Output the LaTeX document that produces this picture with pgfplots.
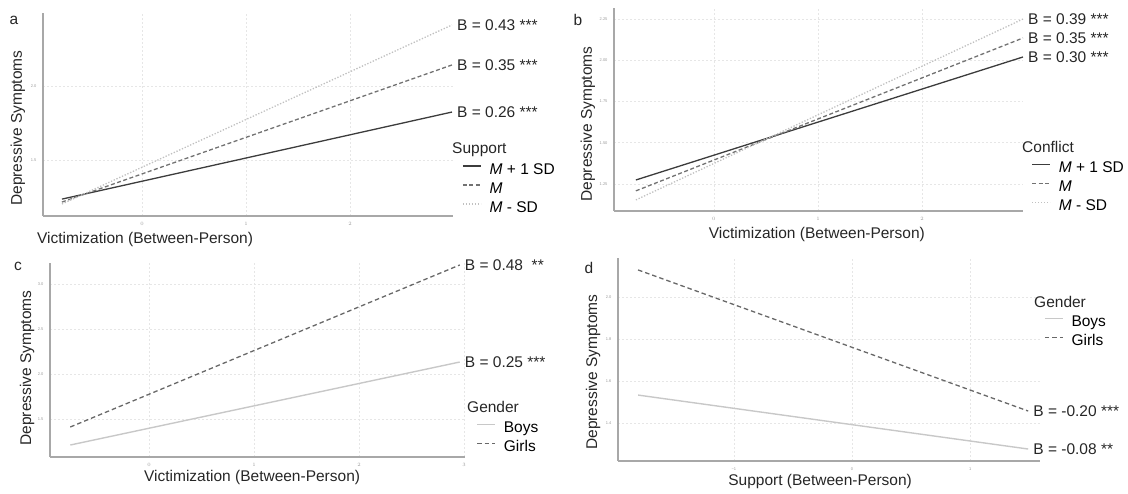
\documentclass[border=0pt]{standalone}
\usepackage{fontspec}
\setmainfont{Liberation Sans}
\usepackage{pgfplots}
\pgfplotsset{compat=1.18}

\definecolor{axgray}{HTML}{A8A8A8}
\definecolor{gridgray}{HTML}{E6E6E6}
\definecolor{tickgray}{HTML}{9A9A9A}
\definecolor{darkline}{HTML}{3C3C3C}
\definecolor{midline}{HTML}{727272}
\definecolor{lightline}{HTML}{C0C0C0}
\definecolor{boysline}{HTML}{C8C8C8}
\definecolor{girlsline}{HTML}{686868}

\newcommand{\mainfont}{\fontsize{15.5}{18}\selectfont}

\tikzset{bnote/.style={anchor=west, font=\mainfont, text=black!85, xshift=5pt, inner sep=0pt}}

\pgfplotsset{
  panel/.style={
    scale only axis,
    axis lines=left,
    axis line style={draw=axgray, line width=1.3pt, -},
    grid=major,
    grid style={dash pattern=on 2pt off 2pt, draw=gridgray, line width=0.6pt},
    major tick length=0pt,
    tick style={draw=none},
    tick label style={font=\fontsize{4}{5}\selectfont, text=tickgray},
    yticklabel style={xshift=-3pt},
    xticklabel style={yshift=-3pt},
    clip=false,
    legend style={draw=none, fill=none, anchor=north west, inner sep=0pt,
      font=\mainfont, row sep=4.5pt, column sep=8pt,
      nodes={inner sep=0pt, text height=11pt, text depth=3.5pt}},
    legend cell align=left,
    legend image code/.code={\draw[#1, line width=1.5pt] (0pt,4.5pt) -- (18pt,4.5pt);},
  },
  ylab/.style 2 args={every axis y label/.style={at={(axis description cs:#1,#2)},
      rotate=90, anchor=center, font=\mainfont, text=black!85}},
  xlab/.style 2 args={every axis x label/.style={at={(axis description cs:#1,#2)},
      anchor=center, font=\mainfont, text=black!85}},
}

\begin{document}
\begin{tikzpicture}[x=1pt,y=1pt]
\useasboundingbox (0,0) rectangle (1128,494);

% ---- a: support ----
\begin{axis}[panel, at={(43pt,278pt)}, anchor=south west, width=410pt, height=203pt,
  xmin=-0.952, xmax=2.99, ymin=1.122, ymax=2.493,
  xtick={0,1,2}, ytick={1.5,2.0}, yticklabels={1.5,2.0},
  xlabel={Victimization (Between-Person)}, ylabel={Depressive Symptoms},
  ylab={-0.061}{0.433}, xlab={0.249}{-0.118},
  legend style={at={(1.022,0.262)}}]
\addplot[darkline, line width=1.3pt] coordinates {(-0.77,1.236) (2.98,1.824)};
\addlegendentry{\textit{M} + 1 SD}
\addplot[midline, line width=1.3pt, dash pattern=on 4pt off 2.5pt] coordinates {(-0.77,1.216) (2.98,2.142)};
\addlegendentry{\textit{M}}
\addplot[lightline, line width=1.3pt, dash pattern=on 1.3pt off 1.7pt] coordinates {(-0.77,1.203) (2.98,2.412)};
\addlegendentry{\textit{M} - SD}
\node[bnote] at (axis cs:2.98,2.412) {B = 0.43 ***};
\node[bnote] at (axis cs:2.98,2.142) {B = 0.35 ***};
\node[bnote] at (axis cs:2.98,1.824) {B = 0.26 ***};
\end{axis}

% ---- b: conflict ----
\begin{axis}[panel, at={(614pt,283pt)}, anchor=south west, width=409pt, height=203pt,
  xmin=-0.96, xmax=2.97, ymin=1.086, ymax=2.317,
  xtick={0,1,2}, ytick={1.25,1.5,1.75,2.0,2.25}, yticklabels={1.25,1.50,1.75,2.00,2.25},
  xlabel={Victimization (Between-Person)}, ylabel={Depressive Symptoms},
  ylab={-0.064}{0.429}, xlab={0.496}{-0.118},
  legend style={at={(1.020,0.244)}}]
\addplot[darkline, line width=1.3pt] coordinates {(-0.75,1.274) (2.97,2.020)};
\addlegendentry{\textit{M} + 1 SD}
\addplot[midline, line width=1.3pt, dash pattern=on 4pt off 2.5pt] coordinates {(-0.75,1.208) (2.97,2.135)};
\addlegendentry{\textit{M}}
\addplot[lightline, line width=1.3pt, dash pattern=on 1.3pt off 1.7pt] coordinates {(-0.75,1.153) (2.97,2.25)};
\addlegendentry{\textit{M} - SD}
\node[bnote] at (axis cs:2.97,2.25) {B = 0.39 ***};
\node[bnote] at (axis cs:2.97,2.135) {B = 0.35 ***};
\node[bnote] at (axis cs:2.97,2.020) {B = 0.30 ***};
\end{axis}

% ---- c: gender x victimization ----
\begin{axis}[panel, at={(50pt,37pt)}, anchor=south west, width=415pt, height=194pt,
  xmin=-0.943, xmax=3.01, ymin=1.078, ymax=3.233,
  xtick={0,1,2,3}, ytick={1.5,2.0,2.5,3.0}, yticklabels={1.5,2.0,2.5,3.0},
  xlabel={Victimization (Between-Person)}, ylabel={Depressive Symptoms},
  ylab={-0.055}{0.459}, xlab={0.487}{-0.108},
  legend style={at={(1.027,0.183)}}]
\addplot[boysline, line width=1.4pt] coordinates {(-0.75,1.211) (2.96,2.133)};
\addlegendentry{Boys}
\addplot[girlsline, line width=1.3pt, dash pattern=on 4.5pt off 3pt] coordinates {(-0.75,1.411) (2.96,3.211)};
\addlegendentry{Girls}
\node[bnote] at (axis cs:2.96,3.211) {B = 0.48 \ **};
\node[bnote] at (axis cs:2.96,2.133) {B = 0.25 ***};
\end{axis}

% ---- d: gender x support ----
\begin{axis}[panel, at={(618pt,33pt)}, anchor=south west, width=422pt, height=203pt,
  xmin=-1.98, xmax=1.59, ymin=1.219, ymax=2.186,
  xtick={-1,0,1}, xticklabels={\textminus1,0,1},
  ytick={1.4,1.6,1.8,2.0}, yticklabels={1.4,1.6,1.8,2.0},
  xlabel={Support (Between-Person)}, ylabel={Depressive Symptoms},
  ylab={-0.059}{0.438}, xlab={0.479}{-0.099},
  legend style={at={(1.009,0.717)}}]
\addplot[boysline, line width=1.4pt] coordinates {(-1.81,1.533) (1.49,1.276)};
\addlegendentry{Boys}
\addplot[girlsline, line width=1.3pt, dash pattern=on 4.5pt off 3pt] coordinates {(-1.81,2.129) (1.49,1.457)};
\addlegendentry{Girls}
\node[bnote] at (axis cs:1.49,1.457) {B = -0.20 ***};
\node[bnote] at (axis cs:1.49,1.276) {B = -0.08 **};
\end{axis}

% panel letters and legend titles
\begin{scope}[every node/.style={font=\mainfont, text=black!85, inner sep=0pt}]
\node at (14,474) {a};
\node at (578,474) {b};
\node at (18,228) {c};
\node at (589,226) {d};
\node[anchor=west] at (452,344) {Support};
\node[anchor=west] at (1022,347) {Conflict};
\node[anchor=west] at (467,87) {Gender};
\node[anchor=west] at (1034,192) {Gender};
\end{scope}
\end{tikzpicture}
\end{document}
